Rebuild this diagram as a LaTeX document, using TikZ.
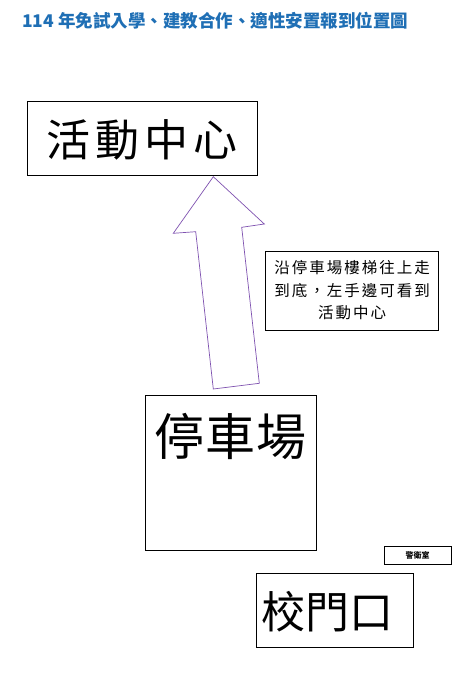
\documentclass[tikz,border=0pt]{standalone}
\usepackage{fontspec}
\newfontfamily\cjk{Noto Sans CJK TC}
\definecolor{titleblue}{HTML}{1F6FB5}
\definecolor{arrowpurple}{HTML}{7F52B0}
\begin{document}
\begin{tikzpicture}[x=1pt,y=-1pt,
  box/.style={draw=black,line width=1pt,inner sep=0pt,outer sep=0pt},
  bigtext/.style={font=\cjk\fontsize{44}{48}\selectfont,inner sep=0pt},
  notetext/.style={font=\cjk\fontsize{15.5}{22.5}\selectfont},
  blockarrow/.style={draw=arrowpurple,line width=0.7pt,fill=white,line join=miter}]
\useasboundingbox[fill=white] (0,0) rectangle (462,686);
% title
\node[anchor=base west,inner sep=0pt,text=titleblue,
      font=\cjk\bfseries\fontsize{17.5}{20}\selectfont] (title) at (22,27)
  {114 年免試入學、建教合作、適性安置報到位置圖};
% activity centre
\node[box,anchor=north west,minimum width=230pt,minimum height=74pt] (act) at (27,101) {};
\node[bigtext] (acttext) at ([yshift=-2pt]act.center)
  {活\kern5pt 動\kern5pt 中\kern5pt 心};
% parking
\node[box,anchor=north west,minimum width=171pt,minimum height=155pt] (park) at (145,395) {};
\node[bigtext,font=\cjk\fontsize{50}{54}\selectfont,anchor=north] (parktext)
  at ([yshift=-18pt]park.north) {停\kern1pt 車\kern1pt 場};
% block arrow
\draw[blockarrow] (213.3,176.7) -- (264.3,224) -- (241.7,227.3) -- (259.3,383.3)
  -- (213.3,389) -- (195.7,231.7) -- (173.3,233.3) -- cycle;
% note
\node[box,anchor=north west,minimum width=173pt,minimum height=79pt,
      align=center,notetext] (note) at (265.7,251)
  {沿\kern2pt 停\kern2pt 車\kern2pt 場\kern2pt 樓\kern2pt 梯\kern2pt 往\kern2pt 上\kern2pt 走\\
   到\kern2pt 底\kern2pt ，\kern2pt 左\kern2pt 手\kern2pt 邊\kern2pt 可\kern2pt 看\kern2pt 到\\
   活\kern2pt 動\kern2pt 中\kern2pt 心};
% guard room
\node[box,anchor=north west,minimum width=67pt,minimum height=18pt,
      font=\cjk\bfseries\fontsize{8}{10}\selectfont] (guard) at (384,546) {警衛室};
% gate
\node[box,anchor=north west,minimum width=157pt,minimum height=74pt] (gate) at (256,573) {};
\node[bigtext] (gatetext) at (327,612) {校門口};
\end{tikzpicture}
\end{document}
